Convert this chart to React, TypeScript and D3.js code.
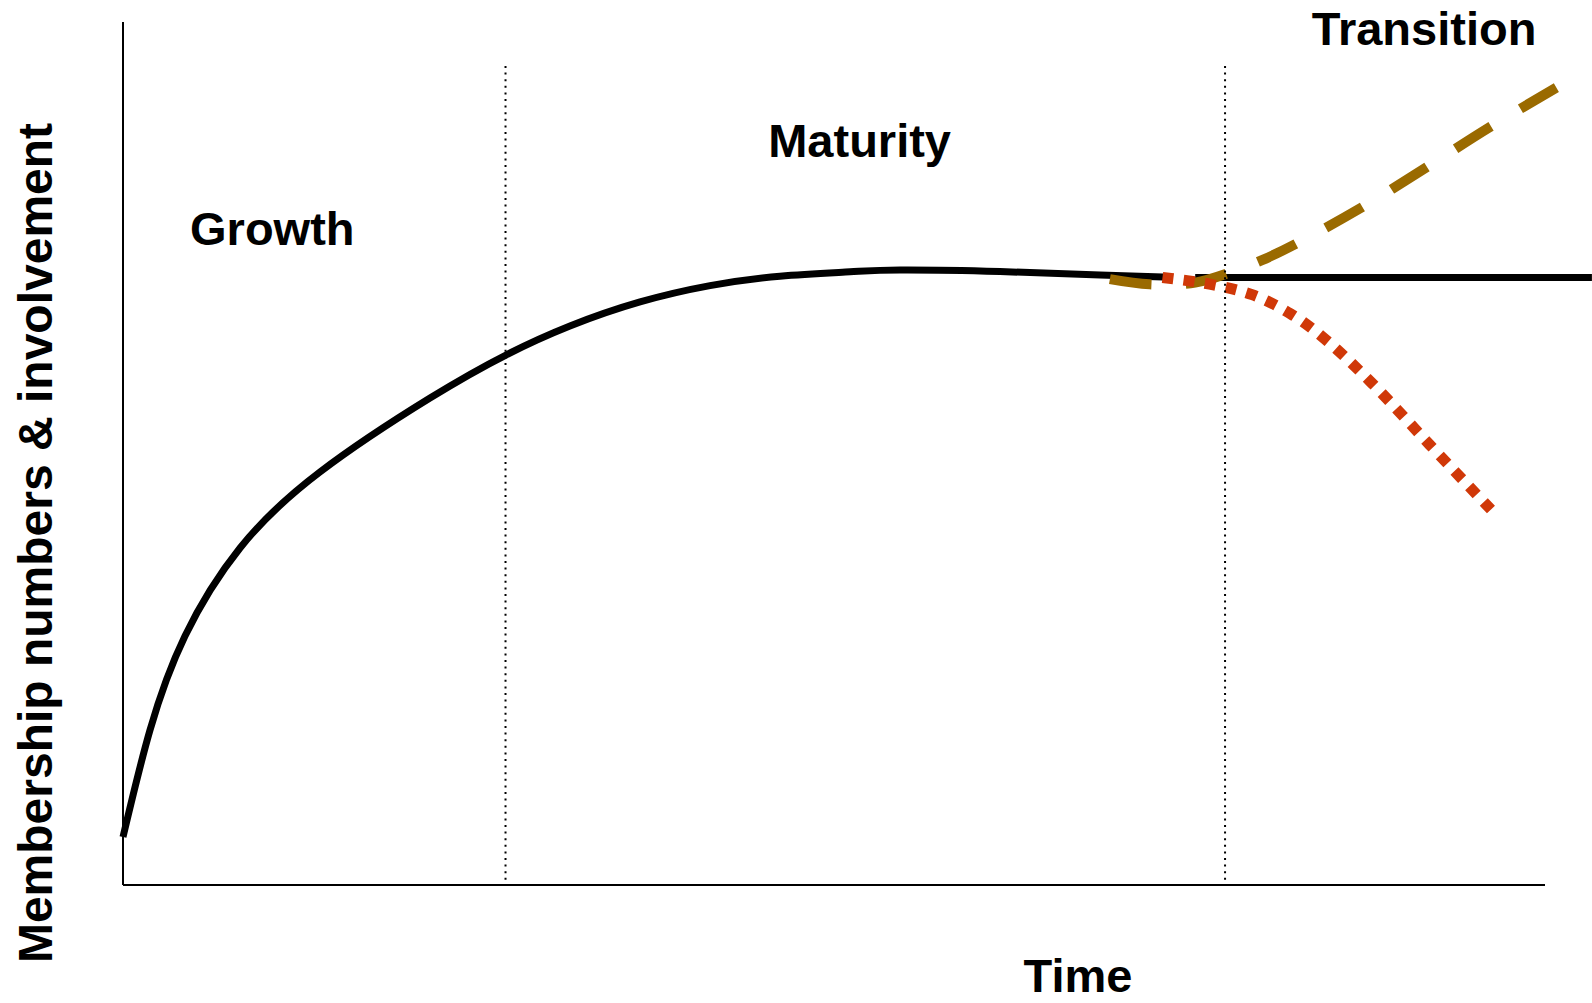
import React from "react";
import * as d3 from "d3";

// Membership lifecycle: black = established curve, brown = renewal, red = decline
const growthX = [0, 1.9, 4.36, 8.23, 13.85, 21.59, 26.93, 31.43, 36.36, 41.28, 46.2, 51.13, 54.64, 61.67, 68.71, 73.14];
const growthY = [5.56, 17.96, 28.85, 39.05, 47.86, 56.43, 61.41, 64.77, 67.56, 69.45, 70.55, 71.05, 71.26, 71.09, 70.68, 70.45];

const plateauX = [75.4, 103.3];
const plateauY = [70.4, 70.4];

const renewalX = [69.4, 72.2, 75.4, 77.9, 80.1, 82.6, 87.2, 91.7, 96.1, 100.8];
const renewalY = [70.2, 69.6, 69.8, 71.0, 72.4, 74.4, 78.6, 83.2, 87.8, 92.4];

const declineX = [73.1, 76.5, 79.4, 82.1, 84.5, 87.8, 91.9, 96.2];
const declineY = [70.4, 69.6, 68.4, 66.2, 63.3, 58.2, 51.0, 43.5];

const phaseBoundaries = [26.9, 77.5];

const phaseLabels = ["Growth", "Maturity", "Transition"];
const phaseLabelX = [10.5, 51.8, 91.5];
const phaseLabelY = [74.2, 84.4, 97.3];

const xTitle = "Time";
const yTitle = "Membership numbers & involvement";

const W = 1592;
const H = 1003;
const FONT = "'Liberation Sans', Arial, Helvetica, sans-serif";

export default function App() {
  const x = d3.scaleLinear().domain([0, 100]).range([123, 1545]);
  const y = d3.scaleLinear().domain([0, 100]).range([885, 22]);

  const smooth = d3
    .line<[number, number]>()
    .x((d) => x(d[0]))
    .y((d) => y(d[1]))
    .curve(d3.curveCatmullRom.alpha(0.5));
  const natural = d3
    .line<[number, number]>()
    .x((d) => x(d[0]))
    .y((d) => y(d[1]))
    .curve(d3.curveNatural);
  const straight = d3
    .line<[number, number]>()
    .x((d) => x(d[0]))
    .y((d) => y(d[1]));

  const zip = (xs: number[], ys: number[]) => xs.map((v, i) => [v, ys[i]] as [number, number]);

  const growthPath = natural(zip(growthX, growthY)) || "";
  const plateauPath = straight(zip(plateauX, plateauY)) || "";
  const renewalPath = smooth(zip(renewalX, renewalY)) || "";
  const declinePath = smooth(zip(declineX, declineY)) || "";

  return (
    <svg
      width={W}
      height={H}
      viewBox={`0 0 ${W} ${H}`}
      style={{ position: "absolute", left: 0, top: 0, background: "#ffffff" }}
    >
      <rect x={0} y={0} width={W} height={H} fill="#ffffff" />
      {/* axes */}
      <line x1={x(0)} x2={x(0)} y1={y(100)} y2={y(0)} stroke="#000" strokeWidth={2} />
      <line x1={x(0)} x2={x(100)} y1={y(0)} y2={y(0)} stroke="#000" strokeWidth={2} />

      {/* curves */}
      <path d={growthPath} fill="none" stroke="#000" strokeWidth={7} />
      <path d={plateauPath} fill="none" stroke="#000" strokeWidth={7} />
      <path d={renewalPath} fill="none" stroke="#9a6a00" strokeWidth={10} strokeDasharray="42 34" />
      <path d={declinePath} fill="none" stroke="#d03808" strokeWidth={11} strokeDasharray="11 10.3" />

      {/* phase boundaries */}
      {phaseBoundaries.map((b, i) => (
        <line
          key={i}
          x1={x(b)}
          x2={x(b)}
          y1={y(94.9)}
          y2={y(0)}
          stroke="#000"
          strokeWidth={2}
          strokeDasharray="2 4.6"
        />
      ))}

      {/* phase labels */}
      {phaseLabels.map((t, i) => (
        <text
          key={t}
          x={x(phaseLabelX[i])}
          y={y(phaseLabelY[i])}
          textAnchor="middle"
          fontFamily={FONT}
          fontWeight="bold"
          fontSize={47}
          fill="#000"
        >
          {t}
        </text>
      ))}

      {/* axis titles */}
      <text x={1078} y={992} textAnchor="middle" fontFamily={FONT} fontWeight="bold" fontSize={47} fill="#000">
        {xTitle}
      </text>
      <text
        transform={`translate(52, 543) rotate(-90)`}
        textAnchor="middle"
        fontFamily={FONT}
        fontWeight="bold"
        fontSize={48}
        fill="#000"
      >
        {yTitle}
      </text>
    </svg>
  );
}
